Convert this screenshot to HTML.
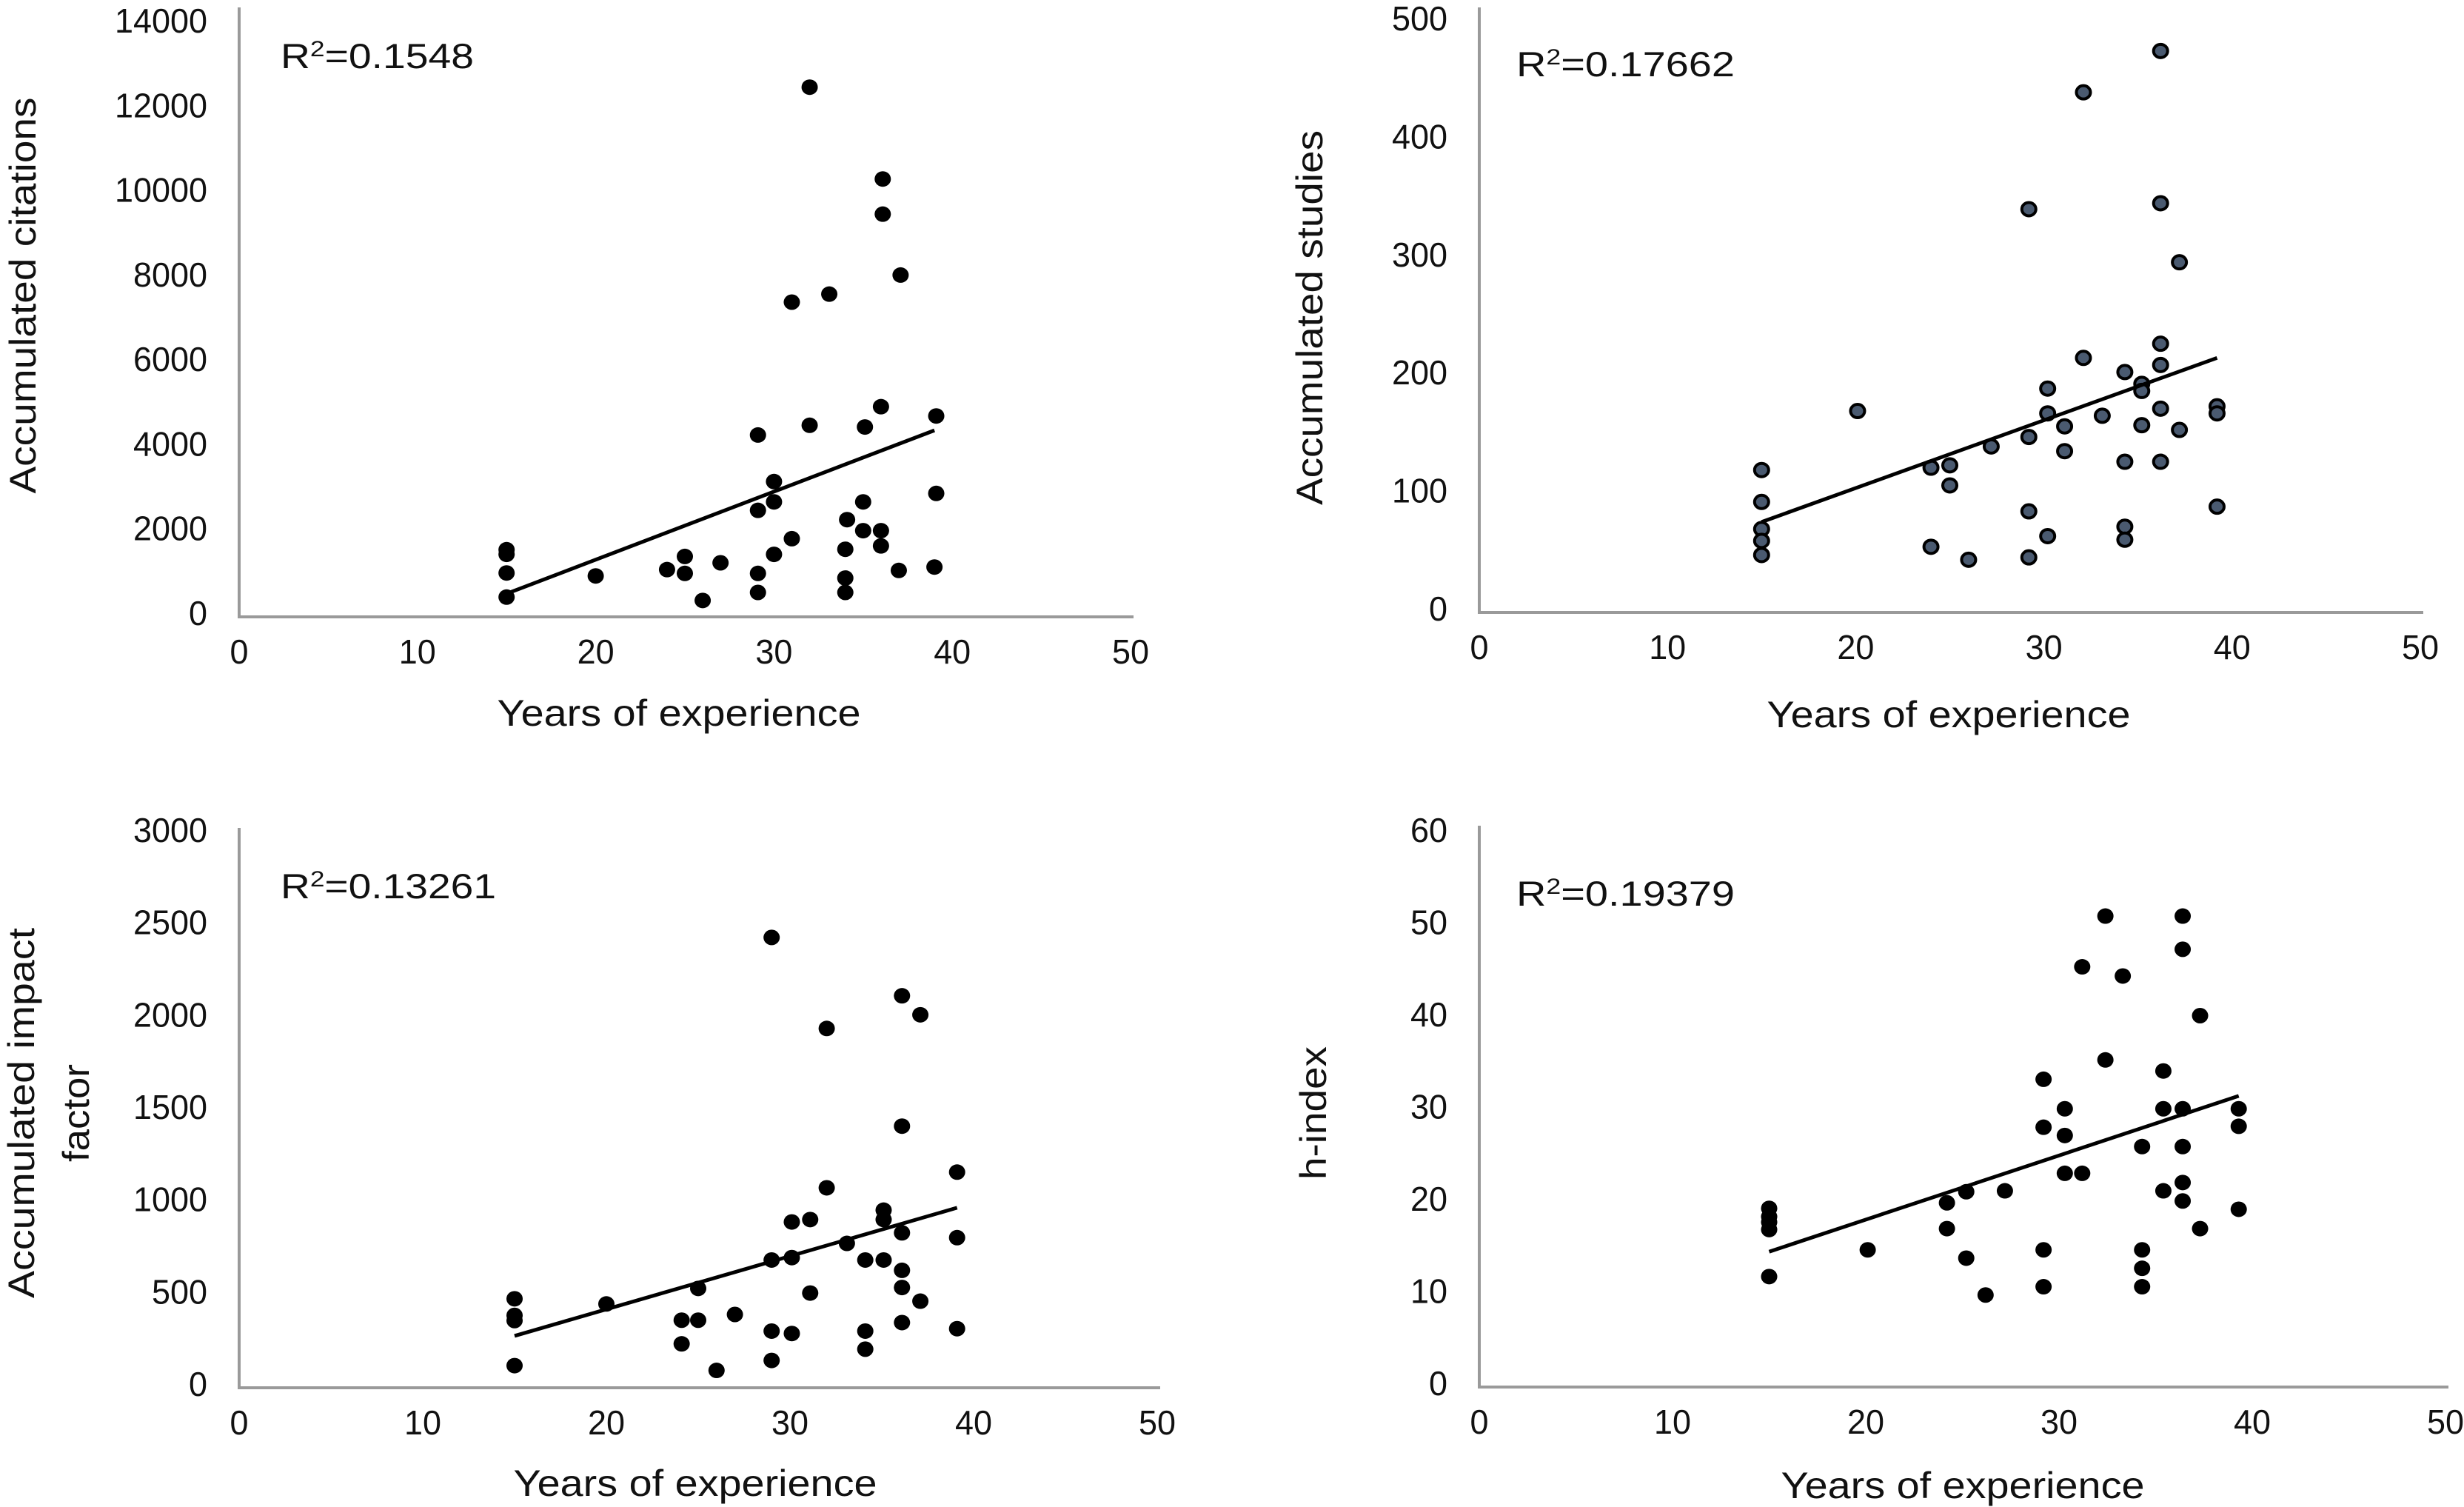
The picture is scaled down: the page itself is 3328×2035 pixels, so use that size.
<!DOCTYPE html>
<html><head><meta charset="utf-8"><style>
html,body{margin:0;padding:0;background:#fff;overflow:hidden;}
svg{display:block;}
text{font-family:"Liberation Sans",sans-serif;fill:#111;}
</style></head><body>
<svg id="fig" width="3328" height="2035" viewBox="0 0 3328 2035" xmlns="http://www.w3.org/2000/svg"></svg>
<script>
// Panel 1: accumulated citations
const citX = [32,36.1,36.1,37.1,31,33.1,36,39.1,32,35.1,29.1,30,30,29.1,35,39.1,34.1,35,36,36,31,34,30,15,15,15,15,20,24,25,25,27,29.1,29.1,26,34,34,37,39];
const citY = [12500,10330,9500,8060,7420,7610,4950,4730,4510,4470,4280,3180,2700,2500,2700,2900,2280,2020,2020,1660,1830,1580,1460,1570,1460,1020,450,950,1100,1410,1010,1260,1010,560,370,900,560,1080,1160];
const citTrend = [[15,530],[39,4390]];
const citTicks = [0,2000,4000,6000,8000,10000,12000,14000];
// Panel 2: accumulated studies
const stuX = [36.2,32.1,29.2,36.2,37.2,36.2,32.1,34.3,36.2,30.2,35.2,35.2,20.1,30.2,36.2,33.1,39.2,39.2,31.1,35.2,37.2,29.2,27.2,31.1,24,25,34.3,36.2,25,15,15,15,15,15,29.2,39.2,34.3,34.3,30.2,24,26,29.2];
const stuY = [475,440,341,346,296,227,215,203,209,189,193,187,170,168,172,166,174,168,157,158,154,148,140,136,122,124,127,127,107,120,93,70,60,48,85,89,72,61,64,55,44,46];
const stuTrend = [[15,76],[39.2,215]];
const stuTicks = [0,100,200,300,400,500];
// Panel 3: accumulated impact factor
const impX = [29,36.1,37.1,32,36.1,39.1,32,35.1,35.1,30.1,31.1,36.1,39.1,33.1,29,30.1,34.1,35.1,36.1,36.1,31.1,37.1,25,20,15,15,15,15,24.1,25,27,24.1,29,30.1,34.1,34.1,36.1,39.1,29,26];
const impY = [2435,2119,2016,1942,1413,1164,1079,958,907,894,907,835,809,778,688,701,688,688,632,539,509,465,534,450,478,388,360,116,362,362,393,234,303,290,303,205,349,316,144,90];
const impTrend = [[15,277],[39.1,971]];
const impTicks = [0,500,1000,1500,2000,2500,3000];
// Panel 4: h-index
const hX = [32.4,36.4,36.4,31.2,33.3,37.3,32.4,35.4,29.2,30.3,35.4,36.4,39.3,29.2,39.3,30.3,34.3,36.4,30.3,31.2,36.4,35.4,36.4,27.2,25.2,24.2,24.2,37.3,39.3,15,15,15,15,15,20.1,25.2,29.2,34.3,34.3,34.3,29.2,26.2];
const hY = [51,51,47.4,45.5,44.5,40.2,35.4,34.2,33.3,30.1,30.1,30.1,30.1,28.1,28.2,27.2,26,26,23.1,23.1,22.1,21.2,20.1,21.2,21.1,19.9,17.1,17.1,19.2,19.3,18.4,17.8,17,11.9,14.8,13.9,14.8,14.8,12.8,10.8,10.8,9.9];
const hTrend = [[15,14.6],[39.3,31.5]];
const hTicks = [0,10,20,30,40,50,60];
const xTicks = [0,10,20,30,40,50];

const NS = "http://www.w3.org/2000/svg";
const svg = document.getElementById('fig');
function mk(tag, attrs, parent){
  const e = document.createElementNS(NS, tag);
  for (const k in attrs) e.setAttribute(k, attrs[k]);
  (parent||svg).appendChild(e);
  return e;
}
const panels = [
  {id:'citations', xs:citX, ys:citY, trend:citTrend, ticks:citTicks, ymax:14000,
   x0:323, x1:1527, y0:832, y1:32, axTop:10, hollow:false,
   r2:'0.1548', r2x:379, r2y:92, r2w:261,
   ytitle:['Accumulated citations'], ytx:[48], yty:399, ytw:[535],
   xtx:917, xty:980},
  {id:'studies', xs:stuX, ys:stuY, trend:stuTrend, ticks:stuTicks, ymax:500,
   x0:1998, x1:3269, y0:826, y1:29, axTop:10, hollow:true,
   r2:'0.17662', r2x:2048, r2y:103, r2w:295,
   ytitle:['Accumulated studies'], ytx:[1786], yty:429, ytw:[506],
   xtx:2632, xty:982},
  {id:'impact', xs:impX, ys:impY, trend:impTrend, ticks:impTicks, ymax:3000,
   x0:323, x1:1563, y0:1873, y1:1125, axTop:1118, hollow:false,
   r2:'0.13261', r2x:379, r2y:1213, r2w:291,
   ytitle:['Accumulated impact','factor'], ytx:[46,120], yty:1503, ytw:[500,132],
   xtx:939, xty:2020},
  {id:'h-index', xs:hX, ys:hY, trend:hTrend, ticks:hTicks, ymax:60,
   x0:1998, x1:3303, y0:1872, y1:1125, axTop:1115, hollow:false,
   r2:'0.19379', r2x:2048, r2y:1223, r2w:295,
   ytitle:['h-index'], ytx:[1791], yty:1503, ytw:[180],
   xtx:2651, xty:2023}
];
panels.forEach(p=>{
  const g = mk('g',{});
  
  
  const sx = v => p.x0 + (p.x1-p.x0)*v/50;
  const sy = v => p.y0 - (p.y0-p.y1)*v/p.ymax;
  const ya = mk('line',{x1:p.x0,y1:p.axTop,x2:p.x0,y2:p.y0+1,stroke:'#9a9a9a','stroke-width':4},g);
  
  
  const xa = mk('line',{x1:p.x0-2,y1:p.y0+1,x2:p.x1+4,y2:p.y0+1,stroke:'#9a9a9a','stroke-width':4},g);
  
  
  p.ticks.forEach(t=>{
    const s = String(t);
    const tx = mk('text',{x:p.x0-43,y:sy(t)+12,'font-size':46,'text-anchor':'end',textLength:25*s.length,lengthAdjust:'spacingAndGlyphs'},g);
    tx.textContent = s;
    
    
  });
  xTicks.forEach(t=>{
    const s = String(t);
    const tx = mk('text',{x:sx(t),y:p.y0+64,'font-size':46,'text-anchor':'middle',textLength:25*s.length,lengthAdjust:'spacingAndGlyphs'},g);
    tx.textContent = s;
    
    
  });
  const xt = mk('text',{x:p.xtx,y:p.xty,'font-size':50,'text-anchor':'middle',textLength:491,lengthAdjust:'spacingAndGlyphs'},g);
  xt.textContent = 'Years of experience';
  
  
  p.ytitle.forEach((s,i)=>{
    const yt = mk('text',{x:0,y:0,'font-size':50,'text-anchor':'middle',textLength:p.ytw[i],lengthAdjust:'spacingAndGlyphs',transform:'translate('+p.ytx[i]+','+p.yty+') rotate(-90)'},g);
    yt.textContent = s;
    
    
  });
  const r = mk('text',{x:p.r2x,y:p.r2y,'font-size':47,textLength:p.r2w,lengthAdjust:'spacingAndGlyphs'},g);
  
  
  const t1 = mk('tspan',{},r); t1.textContent='R';
  const t2 = mk('tspan',{dy:-16,'font-size':30},r); t2.textContent='2';
  const t3 = mk('tspan',{dy:16},r); t3.textContent='='+p.r2;
  p.xs.forEach((xv,i)=>{
    const c = mk('ellipse',{cx:sx(xv),cy:sy(p.ys[i]),rx:p.hollow?9.5:11,ry:p.hollow?9:10.5,fill:p.hollow?'#4a5a70':'#000',stroke:'#000','stroke-width':p.hollow?4:0},g);
    
    
  });
  const tl = mk('line',{x1:sx(p.trend[0][0]),y1:sy(p.trend[0][1]),x2:sx(p.trend[1][0]),y2:sy(p.trend[1][1]),stroke:'#000','stroke-width':5},g);
  
  
});
</script>
</body></html>
